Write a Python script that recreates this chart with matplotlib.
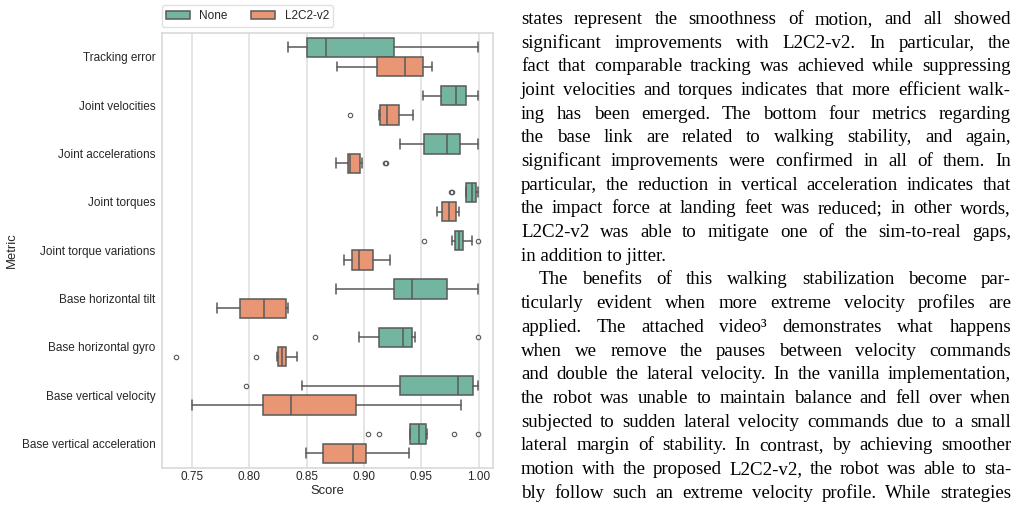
import matplotlib
matplotlib.use("Agg")
import matplotlib.pyplot as plt
from matplotlib.patches import Patch
import seaborn as sns

# Metriques (du haut vers le bas)
metrics = ["Tracking error", "Joint velocities", "Joint accelerations", "Joint torques",
           "Joint torque variations", "Base horizontal tilt", "Base horizontal gyro",
           "Base vertical velocity", "Base vertical acceleration"]
groups = ["None", "L2C2-v2"]
score_ticks = [0.75, 0.80, 0.85, 0.90, 0.95, 1.00]

# Statistiques : groupe "None"
none_whislo = [0.8336, 0.9516, 0.9318, 0.9892, 0.9770, 0.8753, 0.8954, 0.8464, 0.9398]
none_q1 = [0.8505, 0.9668, 0.9520, 0.9893, 0.9793, 0.9260, 0.9135, 0.9318, 0.9400]
none_med = [0.8671, 0.9800, 0.9726, 0.9940, 0.9830, 0.9423, 0.9340, 0.9820, 0.9478]
none_q3 = [0.9266, 0.9890, 0.9837, 0.9974, 0.9866, 0.9720, 0.9420, 0.9948, 0.9545]
none_whishi = [0.9997, 0.9997, 0.9997, 0.9997, 0.9944, 0.9997, 0.9443, 0.9997, 0.9548]
none_fliers = [[], [], [], [0.9760, 0.9768], [0.9528, 0.9997], [], [0.8570, 0.9994],
               [0.7975], [0.9038, 0.9129, 0.9784, 0.9997]]

# Statistiques : groupe "L2C2-v2"
l2c2_whislo = [0.8761, 0.9129, 0.8753, 0.9638, 0.8825, 0.7718, 0.8243, 0.7505, 0.8497]
l2c2_q1 = [0.9117, 0.9143, 0.8864, 0.9685, 0.8898, 0.7922, 0.8249, 0.8117, 0.8642]
l2c2_med = [0.9356, 0.9200, 0.8880, 0.9743, 0.8954, 0.8126, 0.8287, 0.8360, 0.8904]
l2c2_q3 = [0.9516, 0.9310, 0.8968, 0.9802, 0.9076, 0.8322, 0.8319, 0.8934, 0.9020]
l2c2_whishi = [0.9594, 0.9430, 0.8980, 0.9830, 0.9230, 0.8336, 0.8418, 0.9850, 0.9393]
l2c2_fliers = [[], [0.8878], [0.9183, 0.9192], [], [], [], [0.7360, 0.8060], [], []]

# Texte de l'article a droite
para_lines = [
    "states represent the smoothness of motion, and all showed",
    "significant improvements with L2C2-v2. In particular, the",
    "fact that comparable tracking was achieved while suppressing",
    "joint velocities and torques indicates that more efficient walk-",
    "ing has been emerged. The bottom four metrics regarding",
    "the base link are related to walking stability, and again,",
    "significant improvements were confirmed in all of them. In",
    "particular, the reduction in vertical acceleration indicates that",
    "the impact force at landing feet was reduced; in other words,",
    "L2C2-v2 was able to mitigate one of the sim-to-real gaps,",
    "in addition to jitter.",
    "The benefits of this walking stabilization become par-",
    "ticularly evident when more extreme velocity profiles are",
    "applied. The attached video\u00b3 demonstrates what happens",
    "when we remove the pauses between velocity commands",
    "and double the lateral velocity. In the vanilla implementation,",
    "the robot was unable to maintain balance and fell over when",
    "subjected to sudden lateral velocity commands due to a small",
    "lateral margin of stability. In contrast, by achieving smoother",
    "motion with the proposed L2C2-v2, the robot was able to sta-",
    "bly follow such an extreme velocity profile. While strategies",
]
para_end = [10]      # derniere ligne d'un paragraphe (non justifiee)
para_indent = [11]   # premiere ligne d'un paragraphe (alinea)

W, H = 1019, 512
sns.set_theme(style="whitegrid")
plt.rcParams["font.family"] = ["Liberation Sans", "DejaVu Sans"]

fig = plt.figure(figsize=(W / 100, H / 100), dpi=100)
ax = fig.add_axes([161.7 / W, 1 - 467.7 / H, (493.3 - 161.7) / W, 435 / H])

base = sns.color_palette("Set2", 2)
couleurs = [sns.desaturate(c, 0.75) for c in base]
gris = (0.35, 0.35, 0.35)
lw = 1.1


def make_stats(wlo, q1, med, q3, whi, fl):
    return [dict(whislo=a, q1=b, med=c, q3=d, whishi=e, fliers=f)
            for a, b, c, d, e, f in zip(wlo, q1, med, q3, whi, fl)]


series = [
    make_stats(none_whislo, none_q1, none_med, none_q3, none_whishi, none_fliers),
    make_stats(l2c2_whislo, l2c2_q1, l2c2_med, l2c2_q3, l2c2_whishi, l2c2_fliers),
]
offsets = [-0.2, 0.2]

for stats, off, col in zip(series, offsets, couleurs):
    ax.bxp(stats, positions=[i + off for i in range(len(metrics))], widths=0.4,
           orientation="horizontal", patch_artist=True, manage_ticks=False,
           capwidths=0.2,
           boxprops=dict(facecolor=col, edgecolor=gris, linewidth=lw),
           whiskerprops=dict(color=gris, linewidth=lw),
           capprops=dict(color=gris, linewidth=lw),
           medianprops=dict(color=gris, linewidth=lw),
           flierprops=dict(marker="o", markersize=3.2, markerfacecolor="none",
                           markeredgecolor=gris, markeredgewidth=0.8))

ax.set_ylim(len(metrics) - 0.5, -0.5)
ax.set_yticks(range(len(metrics)), metrics)
ax.set_xlim(0.7237, 1.0128)
ax.set_xticks(score_ticks, [f"{t:.2f}" for t in score_ticks])
ax.grid(axis="x", color="0.87", linewidth=1.1)
ax.grid(axis="y", visible=False)
for sp in ax.spines.values():
    sp.set_color("0.85")
    sp.set_linewidth(1.2)
ax.tick_params(axis="both", length=0, labelsize=8.5, labelcolor="0.15")
ax.tick_params(axis="y", pad=4.6)
ax.tick_params(axis="x", pad=2.5)
ax.set_xlabel("Score", fontsize=9.4, color="0.15", labelpad=1)
ax.set_ylabel("Metric", fontsize=9.4, color="0.15", labelpad=3)

handles = [Patch(facecolor=c, edgecolor=gris, linewidth=lw) for c in couleurs]
leg = ax.legend(handles, groups, loc="lower left", bbox_to_anchor=(0, 1 + 5.8 / 435),
                borderaxespad=0, ncol=2, fontsize=8.5, frameon=True)
leg.get_frame().set_edgecolor("0.85")

# Paragraphe justifie
renderer = fig.canvas.get_renderer()
x0, x1 = 521, 1011
y_first, pas = 23.8, 23.7
fs_txt = 13.6
for k, line in enumerate(para_lines):
    y = 1 - (y_first + k * pas) / H
    left = x0 + (18 if k in para_indent else 0)
    if k in para_end:
        fig.text(left / W, y, line, fontsize=fs_txt, family="Liberation Serif",
                 va="baseline", ha="left", color="black")
        continue
    mots = line.split()
    txts = [fig.text(0, y, m, fontsize=fs_txt, family="Liberation Serif",
                     va="baseline", ha="left", color="black") for m in mots]
    larg = [t.get_window_extent(renderer).width for t in txts]
    gap = (x1 - left - sum(larg)) / (len(mots) - 1)
    x = left
    for t, w in zip(txts, larg):
        t.set_x(x / W)
        x += w + gap

fig.savefig("out.png", dpi=100)
